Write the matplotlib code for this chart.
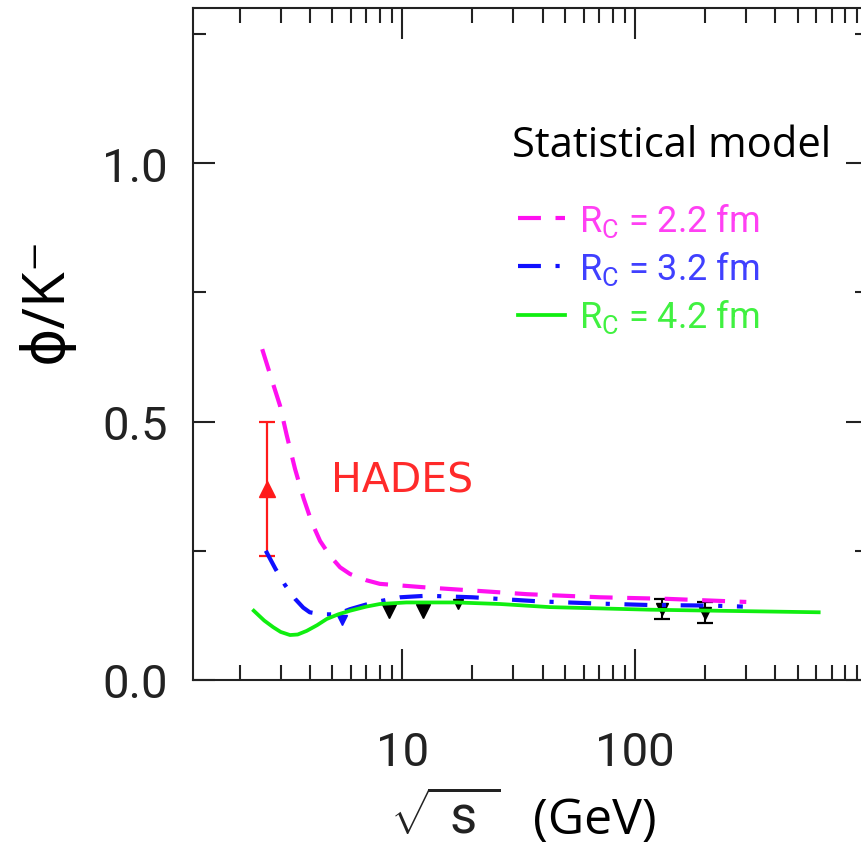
import numpy as np
import matplotlib
matplotlib.use("Agg")
import matplotlib.pyplot as plt
from matplotlib.ticker import LogLocator, FuncFormatter, NullFormatter, FixedLocator

# statistical model curves, phi/K- vs sqrt(s_NN)
rc22_x = [2.50, 2.76, 2.98, 3.18, 3.46, 3.76, 4.08, 4.43, 4.89, 5.4, 5.96, 7.0, 8.0, 12.7, 20.2, 34.3, 70.8, 137, 300]
rc22_y = [0.640, 0.578, 0.531, 0.475, 0.408, 0.352, 0.305, 0.269, 0.240, 0.218, 0.205, 0.193, 0.186, 0.179, 0.173, 0.166, 0.160, 0.157, 0.151]

rc32_x = [2.59, 2.85, 3.13, 3.46, 3.75, 4.0, 4.5, 5.05, 5.5, 5.96, 7.5, 9.78, 12.7, 20.0, 39, 68, 116, 210, 290]
rc32_y = [0.250, 0.215, 0.184, 0.157, 0.140, 0.131, 0.127, 0.127, 0.131, 0.137, 0.150, 0.160, 0.163, 0.160, 0.152, 0.148, 0.145, 0.144, 0.142]

rc42_x = [2.30, 2.55, 2.79, 3.0, 3.29, 3.55, 3.88, 4.3, 4.73, 5.3, 5.96, 7.0, 8.0, 10.4, 17.1, 26.3, 43, 116, 224, 614]
rc42_y = [0.134, 0.115, 0.102, 0.093, 0.087, 0.088, 0.095, 0.106, 0.118, 0.127, 0.134, 0.142, 0.147, 0.150, 0.150, 0.147, 0.141, 0.136, 0.134, 0.131]

# measurements
hades_x = [2.61]
hades_y = [0.37]
hades_err = [0.13]

ags_x = [5.48]
ags_y = [0.116]

sps_x = [8.8, 12.3]
sps_y = [0.133, 0.133]
sps17_x = [17.3]
sps17_y = [0.147]

rhic_x = [130, 200]
rhic_y = [0.137, 0.130]
rhic_err = [0.019, 0.020]

legend_labels = [r"R$_\mathrm{C}$ = 2.2 fm", r"R$_\mathrm{C}$ = 3.2 fm", r"R$_\mathrm{C}$ = 4.2 fm"]

plt.rcParams["mathtext.fontset"] = "custom"
plt.rcParams["mathtext.rm"] = "Roboto"
plt.rcParams["mathtext.it"] = "Roboto:italic"

plot_font = "Roboto"
ink = "#222222"
magenta = "#ff10f0"
blue = "#1010ff"
green = "#10ee10"

fig = plt.figure(figsize=(8.62, 8.45), dpi=100)
ax = fig.add_axes([192.7 / 862, 164 / 845, (868 - 192.7) / 862, (836 - 164) / 845])

# data points (under the curves)
ax.errorbar(hades_x, hades_y, yerr=hades_err, fmt="^", color="#ff1a1a", ms=11,
            elinewidth=1.6, capsize=6, capthick=1.6, zorder=2)
ax.plot(ags_x, ags_y, "v", color=blue, ms=7.5, zorder=2)
ax.plot(sps_x, sps_y, "v", color="black", ms=9.5, zorder=2)
ax.plot(sps17_x, sps17_y, "v", color="black", ms=7, zorder=2)
ax.errorbar(rhic_x, rhic_y, yerr=rhic_err, fmt="v", color="black", ms=8,
            elinewidth=1.5, capsize=6, capthick=1.6, zorder=2)

l1, = ax.plot(rc22_x, rc22_y, color=magenta, lw=3, ls=(0, (5.5, 3.5)), zorder=3)
l2, = ax.plot(rc32_x, rc32_y, color=blue, lw=3, ls=(0, (5.5, 3.5, 1, 3.5)), zorder=3)
l3, = ax.plot(rc42_x, rc42_y, color=green, lw=2.7, zorder=3)

ax.set_xscale("log")
ax.set_xlim(1.257, 1000)
ax.set_ylim(0, 1.3)

ax.xaxis.set_major_locator(FixedLocator([10, 100]))
ax.xaxis.set_minor_locator(LogLocator(base=10, subs=np.arange(2, 10), numticks=20))
ax.xaxis.set_major_formatter(FuncFormatter(lambda v, p: f"{v:g}"))
ax.xaxis.set_minor_formatter(NullFormatter())
ax.yaxis.set_major_locator(FixedLocator([0.0, 0.5, 1.0]))
ax.yaxis.set_minor_locator(FixedLocator([0.25, 0.75, 1.25]))
ax.yaxis.set_major_formatter(FuncFormatter(lambda v, p: f"{v:.1f}"))

for s in ax.spines.values():
    s.set_linewidth(1.5)
    s.set_color(ink)

ax.tick_params(axis="both", which="both", direction="in", top=True, right=True,
               width=1.5, color=ink, labelcolor=ink)
ax.tick_params(axis="x", which="major", length=22, pad=36)
ax.tick_params(axis="x", which="minor", length=11)
ax.tick_params(axis="y", which="major", length=16, pad=18)
ax.tick_params(axis="y", which="minor", length=9.5)
for lab in ax.get_xticklabels() + ax.get_yticklabels():
    lab.set_family(plot_font)
    lab.set_fontsize(34)

leg = ax.legend([l1, l2, l3], legend_labels, loc="upper left",
                bbox_to_anchor=(518 / 862, 1 - 202 / 845), bbox_transform=fig.transFigure,
                frameon=False, borderaxespad=0, borderpad=0,
                handlelength=1.3, handletextpad=0.4, labelspacing=0.28,
                prop={"family": plot_font, "size": 26})
for txt, c in zip(leg.get_texts(), [magenta, blue, green]):
    txt.set_color(c)
    txt.set_alpha(0.8)

ax.text(4.92, 0.386, "HADES", color="#ff2a2a", fontsize=29.5, family="DejaVu Sans",
        va="center", ha="left")

fig.text(511.7 / 862, 1 - 156.7 / 845, "Statistical model", family="Open Sans",
         fontsize=30, color="black", ha="left", va="baseline")

fig.text(47 / 862, 1 - 300 / 845, "\u03d5/K\u207b", family=["Open Sans", "DejaVu Sans"],
         fontsize=42, rotation=90, ha="center", va="center", color="black")

fig.text(390 / 862, 1 - 834 / 845, r"$\sqrt{\ \mathrm{s}\ }$", fontsize=38, color=ink,
         ha="left", va="baseline")
fig.text(533 / 862, 1 - 834 / 845, "(GeV)", family="Open Sans", fontsize=36,
         color="black", ha="left", va="baseline")

fig.savefig("out.png", dpi=100)
